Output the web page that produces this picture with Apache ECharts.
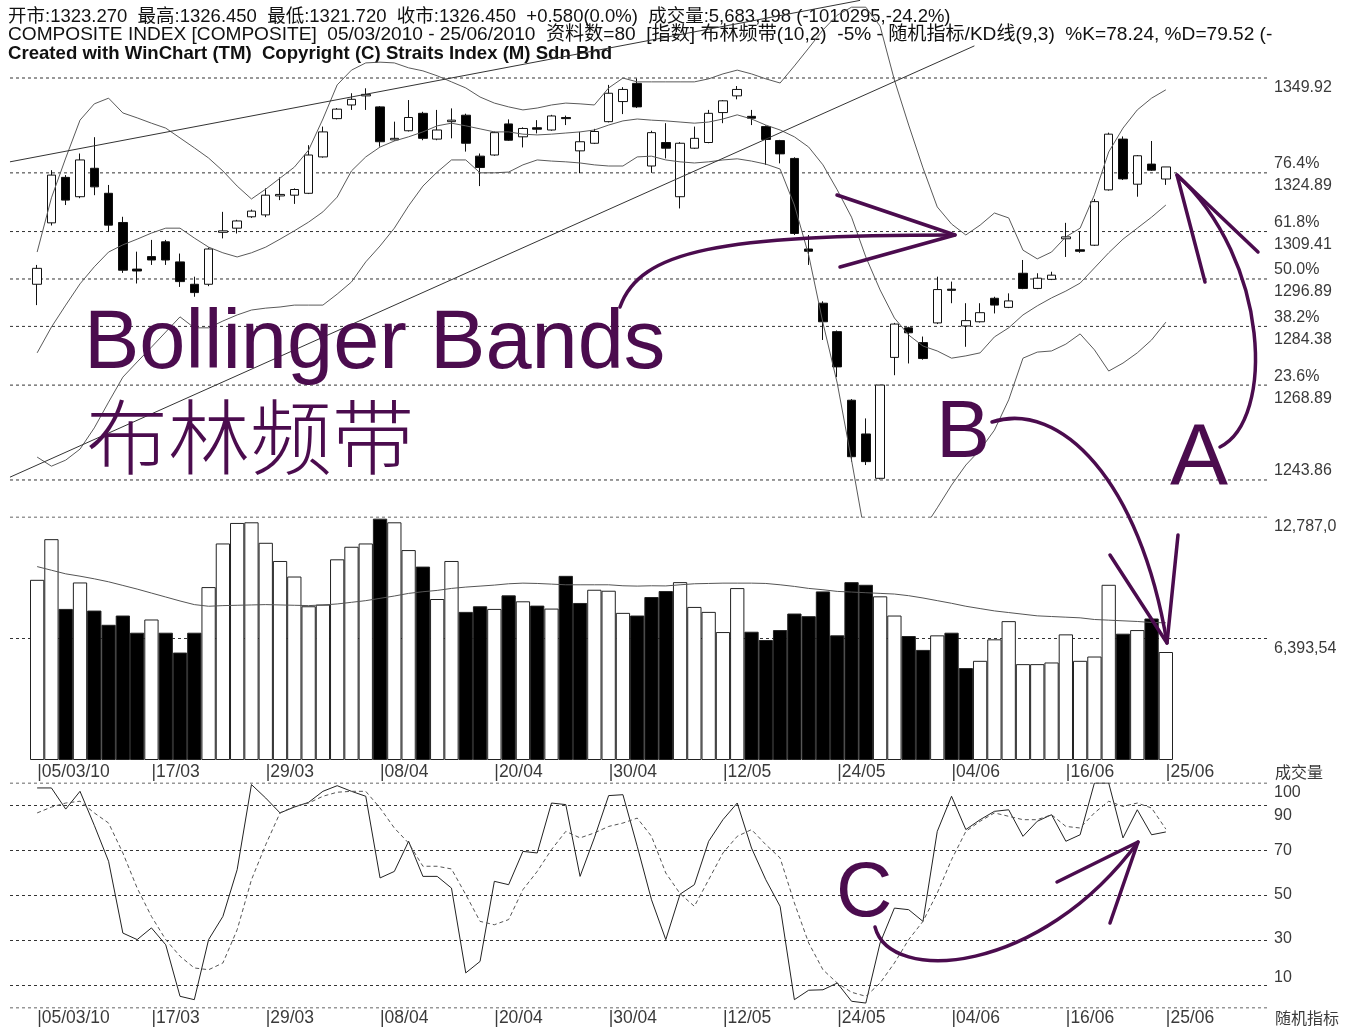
<!DOCTYPE html>
<html><head><meta charset="utf-8">
<script src="https://cdn.jsdelivr.net/npm/echarts@6/dist/echarts.min.js"></script>
<style>html,body{margin:0;padding:0;background:#fff}#c{width:1348px;height:1030px}</style>
</head><body><div id="c"></div>
<script>
// ---------------- DATA ----------------
const dates = ['05/03','08/03','09/03','10/03','11/03','12/03','15/03','16/03','17/03','18/03',
'19/03','22/03','23/03','24/03','25/03','26/03','29/03','30/03','31/03','01/04',
'02/04','05/04','06/04','07/04','08/04','09/04','12/04','13/04','14/04','15/04',
'16/04','19/04','20/04','21/04','22/04','23/04','26/04','27/04','28/04','29/04',
'30/04','03/05','04/05','05/05','06/05','07/05','10/05','11/05','12/05','13/05',
'14/05','17/05','18/05','19/05','20/05','21/05','24/05','25/05','26/05','27/05',
'31/05','01/06','02/06','03/06','04/06','07/06','08/06','09/06','10/06','11/06',
'14/06','15/06','16/06','17/06','18/06','21/06','22/06','23/06','24/06','25/06'];
const tickIndex = [0,8,16,24,32,40,48,56,64,72,79];
const tickText = ['05/03/10','17/03','29/03','08/04','20/04','30/04','12/05','24/05','04/06','16/06','25/06'];

const opens = [1295.5,1311.7,1323.7,1318.6,1326.1,1319.5,1311.8,1299.5,1302.8,1306.7,
1301.4,1295.5,1295.5,1309.2,1310.3,1313.3,1313.8,1318.8,1319.0,1319.5,
1329.1,1339.2,1342.8,1345.2,1342.3,1333.6,1336.0,1340.6,1333.8,1338.4,
1340.1,1329.3,1329.6,1337.8,1334.4,1336.8,1336.2,1339.5,1330.7,1332.7,
1338.4,1343.7,1348.5,1326.7,1332.9,1318.6,1331.4,1332.9,1340.8,1345.2,
1339.8,1337.1,1333.4,1328.7,1304.8,1290.5,1283.0,1264.9,1256.0,1244.3,
1276.2,1284.0,1280.1,1285.3,1294.2,1284.5,1285.6,1291.8,1289.4,1298.4,
1294.4,1296.8,1307.5,1304.6,1305.8,1320.4,1333.8,1321.9,1327.2,1323.27];
const closes = [1299.7,1324.3,1317.7,1328.3,1321.2,1311.1,1299.2,1299.0,1301.9,1301.9,
1296.2,1293.3,1304.8,1309.6,1312.2,1314.8,1319.0,1319.2,1320.5,1329.6,
1335.7,1341.7,1344.3,1345.6,1333.1,1334.0,1339.5,1334.0,1336.2,1338.8,
1332.7,1326.3,1335.5,1333.5,1336.6,1336.4,1339.9,1339.2,1333.1,1335.8,
1345.9,1346.9,1342.3,1335.5,1331.4,1332.7,1334.0,1340.6,1343.9,1346.9,
1339.3,1333.7,1329.9,1308.9,1304.2,1285.6,1273.7,1250.0,1248.7,1268.9,
1285.0,1282.7,1275.9,1294.1,1293.9,1285.9,1288.0,1290.0,1291.1,1294.4,
1297.1,1297.9,1308.0,1304.2,1317.3,1335.1,1323.3,1329.4,1325.6,1326.45];
const highs = [1300.6,1325.6,1324.3,1330.0,1334.3,1321.7,1313.3,1304.1,1307.2,1307.2,
1303.6,1297.5,1305.2,1314.6,1312.5,1315.2,1320.8,1323.7,1320.8,1332.2,
1337.1,1342.0,1345.9,1347.2,1342.5,1338.4,1344.1,1341.0,1341.5,1341.9,
1340.5,1330.0,1335.8,1339.0,1336.9,1338.8,1340.2,1340.0,1335.7,1336.5,
1348.1,1347.5,1349.8,1336.0,1338.0,1333.0,1337.1,1341.5,1344.1,1347.8,
1341.5,1337.4,1333.6,1329.0,1308.5,1291.0,1283.3,1265.2,1260.1,1268.9,
1285.3,1284.3,1281.7,1297.5,1296.2,1290.5,1290.5,1292.2,1293.1,1301.9,
1298.4,1298.8,1311.7,1309.4,1318.0,1335.5,1334.5,1329.6,1333.3,1326.45];
const lows = [1290.0,1311.0,1316.4,1318.2,1319.0,1309.4,1298.5,1295.7,1300.6,1300.6,
1294.8,1292.2,1295.0,1307.6,1308.9,1313.0,1313.2,1317.7,1316.7,1319.3,
1328.9,1339.0,1341.5,1341.5,1331.8,1333.4,1335.8,1333.5,1333.5,1334.0,
1330.5,1321.4,1329.4,1333.3,1331.6,1335.3,1336.0,1337.5,1324.8,1332.5,
1338.2,1340.4,1342.0,1324.9,1328.7,1315.5,1331.2,1332.7,1338.0,1344.3,
1337.5,1327.0,1327.4,1308.5,1300.6,1280.8,1271.0,1248.7,1247.8,1244.0,
1271.5,1274.6,1275.6,1285.0,1290.5,1279.0,1285.4,1287.8,1289.2,1294.2,
1294.2,1296.6,1302.7,1303.8,1305.6,1320.2,1323.0,1318.6,1325.4,1321.72];

const bollUpper = [1304.0,1318.3,1328.8,1338.8,1343.1,1344.6,1340.7,1339.4,1338.0,1336.7,
1334.1,1331.5,1328.8,1325.4,1321.4,1318.0,1320.6,1323.5,1326.4,1330.9,
1339.1,1348.1,1352.0,1353.9,1354.1,1353.9,1352.6,1351.8,1350.5,1348.9,
1347.3,1344.9,1343.3,1342.3,1341.5,1342.0,1342.8,1343.3,1343.1,1342.8,
1347.3,1349.9,1348.9,1348.9,1348.9,1348.9,1348.9,1349.7,1351.0,1352.0,
1351.0,1349.7,1348.6,1353.1,1357.8,1362.6,1366.5,1368.6,1368.6,1363.6,
1349.4,1337.5,1326.2,1315.9,1311.4,1308.5,1311.1,1314.3,1313.0,1304.5,
1302.2,1304.0,1308.0,1310.3,1319.1,1330.4,1336.7,1341.5,1344.6,1346.8];
const bollMid = [1277.4,1284.2,1290.0,1295.6,1300.1,1304.0,1305.9,1307.4,1309.0,1310.3,
1310.3,1307.7,1305.3,1303.8,1302.7,1303.8,1305.3,1307.4,1309.6,1311.9,
1314.6,1318.5,1325.4,1329.1,1331.7,1333.3,1334.4,1335.7,1337.3,1338.0,
1337.3,1336.5,1335.7,1335.7,1335.1,1334.9,1335.1,1335.4,1335.7,1336.2,
1337.5,1338.6,1339.1,1338.8,1338.6,1338.3,1338.0,1338.3,1339.1,1340.2,
1339.1,1337.5,1336.2,1334.4,1331.7,1327.0,1320.4,1313.2,1302.7,1294.0,
1286.6,1282.1,1279.2,1277.9,1276.0,1276.6,1277.4,1281.6,1284.0,1287.4,
1289.8,1291.9,1293.7,1295.8,1299.8,1303.8,1307.4,1310.3,1313.2,1316.4];
const bollLower = [1249.9,1247.5,1249.1,1252.0,1257.6,1264.4,1271.0,1275.0,1278.9,1282.9,
1286.9,1284.0,1284.0,1285.8,1287.4,1288.7,1289.2,1289.5,1290.0,1290.0,
1290.0,1292.9,1296.1,1301.4,1305.6,1310.3,1316.2,1321.4,1325.1,1328.3,
1328.3,1324.9,1324.9,1325.1,1327.0,1328.3,1328.0,1327.8,1327.5,1327.0,
1326.7,1326.7,1329.1,1329.3,1328.3,1327.8,1327.5,1327.8,1328.3,1328.6,
1328.0,1327.2,1325.9,1316.4,1303.2,1285.3,1269.4,1249.1,1228.0,1222.7,
1222.7,1225.4,1230.7,1236.5,1242.5,1247.8,1251.8,1257.0,1265.0,1276.0,
1277.6,1277.9,1279.7,1282.4,1278.2,1272.6,1274.7,1277.4,1280.8,1285.5];

// trend lines: [bar index, price]
const trendUpper = [[-1.9, 1327.8], [57.6, 1370.4]];
const trendLower = [[-1.9, 1244.6], [65.6, 1358.4]];

const priceLevels = [1349.92, 1324.89, 1309.41, 1296.89, 1284.38, 1268.89, 1243.86];
const priceLevelText = ['1349.92', '76.4%\n1324.89', '61.8%\n1309.41', '50.0%\n1296.89', '38.2%\n1284.38', '23.6%\n1268.89', '1243.86'];

const volumes = [9481,11621,7950,9342,7863,7115,7602,6698,7394,6698,
5654,6698,9099,11395,12474,12508,11430,10473,9655,8090,
8177,10560,11221,11395,12700,12508,11047,10177,8472,10473,
7794,8090,7950,8664,8351,8124,7968,9690,8264,8959,
8907,7742,7602,8577,8890,9360,8055,7794,6733,9046,
6750,6315,6837,7707,7568,8872,6559,9360,9220,8612,
7602,6524,5793,6559,6698,4836,5219,6350,7307,5045,
5045,5132,6611,5219,5445,9220,6646,6837,7446,5683];
const volUp = [1,1,0,1,0,0,0,0,1,0, 0,0,1,1,1,1,1,1,1,1, 1,1,1,1,0,1,1,0,1,1,
0,0,1,0,1,0,1,0,0,1, 1,1,0,0,0,1,1,1,1,1, 0,0,0,0,0,0,0,0,0,1,
1,0,0,1,0,0,1,1,1,1, 1,1,1,1,1,1,0,1,0,1];
const volMA = [10177,9986,9795,9673,9534,9377,9186,8994,8785,8577,
8368,8177,8090,8124,8142,8159,8177,8159,8142,8124,
8159,8211,8298,8385,8507,8629,8768,8855,8925,9029,
9099,9151,9203,9273,9307,9290,9255,9220,9220,9220,
9220,9168,9151,9168,9160,9220,9273,9290,9307,9307,
9307,9290,9220,9134,9029,8959,8872,8838,8803,8768,
8733,8646,8525,8385,8246,8090,7968,7846,7759,7672,
7585,7550,7515,7481,7394,7359,7324,7289,7237,7220];
const volLevels = [12787.0, 6393.54];
const volLevelText = ['12,787,0', '6,393,54'];

const stochK = [97.8,97.8,88.4,96.3,81.2,65.2,33.3,30.4,35.6,28.1,
5.2,3.7,30.4,40.7,61.5,99.3,93.3,86.7,89.3,91.4,
96.3,98.8,96.3,94.1,57.8,60.7,74.1,58.5,58.5,53.3,
15.6,20.7,56.3,54.8,69.6,68.9,91.1,90.4,58.5,75.6,
94.4,94.8,71.9,48.1,30.4,50.6,54.8,74.1,83.7,91.1,
71.1,57.0,45.2,3.7,7.9,8.1,11.1,3.0,2.2,28.9,
44.4,43.7,38.5,78.5,94.1,79.3,83.7,87.4,88.1,76.3,
83.0,85.9,74.1,77.0,100,100,75.6,88.1,77.0,78.24];
const stochD = [86.7,89.3,91.1,91.9,86.7,82.2,68.9,53.3,40.7,30.4,
23.0,17.8,17.0,20.0,34.8,57.0,72.6,86.7,89.6,91.1,
94.1,95.9,96.3,96.3,88.9,80.0,73.3,63.0,63.0,61.8,
50.4,38.5,37.0,39.3,52.6,60.7,70.4,78.5,75.6,77.8,
80.7,82.2,84.4,76.3,60.0,50.8,45.2,57.0,68.9,76.3,
79.3,72.6,66.7,46.7,28.9,17.0,11.1,7.0,5.2,11.1,
20.0,30.4,38.5,51.1,65.9,78.5,83.0,86.7,85.2,83.7,
83.7,85.9,80.7,80.0,86.7,91.9,89.6,91.1,88.9,79.52];
const stochLevels = [100, 90, 70, 50, 30, 10, 0];
const stochLevelText = ['100', '90', '70', '50', '30', '10', ''];

const header1 = '开市:1323.270  最高:1326.450  最低:1321.720  收市:1326.450  +0.580(0.0%)  成交量:5,683,198 (-1010295,-24.2%)';
const header2 = 'COMPOSITE INDEX [COMPOSITE]  05/03/2010 - 25/06/2010  资料数=80  [指数] 布林频带(10,2)  -5% - 随机指标/KD线(9,3)  %K=78.24, %D=79.52 (-';
const header3 = 'Created with WinChart (TM)  Copyright (C) Straits Index (M) Sdn Bhd';

// ---------------- LAYOUT / STYLE ----------------
const N = dates.length;
const CAT_LEFT = 30, CAT_W = 1143, OV_LEFT = 10, OV_W = 1260;
const BW = CAT_W / N;
const xMin = -((CAT_LEFT + BW / 2) - OV_LEFT) / BW;
const xMax = xMin + OV_W / BW;
const P_MIN = 1234.09, P_MAX = 1370.50;
const PANELS = [{top: 0, h: 517}, {top: 517, h: 243}, {top: 783, h: 225}];
const FONT = '"Liberation Sans", Arial, "Noto Sans CJK SC", sans-serif';
const CJK = '"Noto Sans CJK SC", "Liberation Sans", sans-serif';
const LABEL_COLOR = '#3a3a3a';
const PURPLE = '#4b0c4e';
const priceShift = [10, 2, 2, 2, 2, 2, -9];
const volShift = [10, 10];
const stochShift = [10, 10, 0, -1, -2, -8, 0];

const grids = [];
PANELS.forEach(p => {
  grids.push({left: CAT_LEFT, top: p.top, width: CAT_W, height: p.h});
  grids.push({left: OV_LEFT, top: p.top, width: OV_W, height: p.h});
});

function catAxis(gi, showLabels, margin) {
  return {
    type: 'category', gridIndex: gi, data: dates, boundaryGap: true,
    axisLine: {show: false}, axisTick: {show: false}, splitLine: {show: false},
    axisLabel: showLabels ? {
      show: true, margin: margin, align: 'left', color: LABEL_COLOR, fontSize: 17.5, fontFamily: FONT,
      interval: (idx) => tickIndex.indexOf(idx) >= 0,
      formatter: (v, idx) => '|' + tickText[tickIndex.indexOf(idx)]
    } : {show: false}
  };
}
function ovAxis(gi) {
  return {type: 'value', gridIndex: gi, min: xMin, max: xMax, show: false, splitLine: {show: false}};
}
function yAx(gi, mn, mx) {
  return {type: 'value', gridIndex: gi, min: mn, max: mx, show: false, splitLine: {show: false}};
}

function levelSeries(axisIdx, levels, texts, shifts) {
  return levels.map((v, i) => ({
    type: 'line', xAxisIndex: axisIdx, yAxisIndex: axisIdx, z: 1, silent: true,
    symbol: 'none', animation: false,
    data: [[xMin, v], [xMax, v]],
    lineStyle: {color: '#333', width: 1, type: [3, 3]},
    endLabel: texts[i] ? {
      show: true, formatter: texts[i], color: LABEL_COLOR, fontSize: 16, fontFamily: FONT,
      lineHeight: 22, distance: 4, offset: [0, shifts[i]], align: 'left'
    } : {show: false}
  }));
}

const series = [];
// price panel
series.push({
  type: 'candlestick', xAxisIndex: 0, yAxisIndex: 0, z: 3, barWidth: 9,
  data: dates.map((_, i) => [opens[i], closes[i], lows[i], highs[i]]),
  itemStyle: {color: '#ffffff', color0: '#000000', borderColor: '#111', borderColor0: '#111', borderWidth: 1}
});
[bollUpper, bollMid, bollLower].forEach(arr => series.push({
  type: 'line', xAxisIndex: 0, yAxisIndex: 0, z: 4, symbol: 'none', data: arr, clip: true,
  lineStyle: {color: '#5a5a5a', width: 1}
}));
[trendUpper, trendLower].forEach(arr => series.push({
  type: 'line', xAxisIndex: 1, yAxisIndex: 1, z: 4, symbol: 'none', data: arr, clip: true,
  lineStyle: {color: '#333', width: 1}
}));
series.push(...levelSeries(1, priceLevels, priceLevelText, priceShift));
// volume panel
series.push({
  type: 'bar', xAxisIndex: 2, yAxisIndex: 2, z: 3, barCategoryGap: '0%',
  data: volumes.map((v, i) => ({value: v, itemStyle: {color: volUp[i] ? '#ffffff' : '#000000'}})),
  itemStyle: {borderColor: '#222', borderWidth: 1}
});
series.push({
  type: 'line', xAxisIndex: 2, yAxisIndex: 2, z: 4, symbol: 'none', data: volMA,
  lineStyle: {color: '#555', width: 1}
});
series.push(...levelSeries(3, volLevels, volLevelText, volShift));
// stochastic panel
series.push({
  type: 'line', xAxisIndex: 4, yAxisIndex: 4, z: 4, symbol: 'none', data: stochK,
  lineStyle: {color: '#222', width: 1}
});
series.push({
  type: 'line', xAxisIndex: 4, yAxisIndex: 4, z: 4, symbol: 'none', data: stochD,
  lineStyle: {color: '#555', width: 1, type: [4, 3]}
});
series.push(...levelSeries(5, stochLevels, stochLevelText, stochShift));

function txt(text, x, y, size, opts) {
  return Object.assign({type: 'text', x: x, y: y, z: 0, silent: true,
    style: Object.assign({text: text, fontSize: size, fontFamily: FONT, fill: '#111', verticalAlign: 'middle', align: 'left'}, opts || {})});
}
const pStroke = {stroke: PURPLE, lineWidth: 3.5, fill: null, lineCap: 'round', lineJoin: 'round'};
function curve(x1, y1, c1x, c1y, c2x, c2y, x2, y2) {
  return {type: 'bezierCurve', z: 100, silent: true, shape: {x1, y1, x2, y2, cpx1: c1x, cpy1: c1y, cpx2: c2x, cpy2: c2y}, style: pStroke};
}
function head(pts) {
  return {type: 'polyline', z: 100, silent: true, shape: {points: pts}, style: pStroke};
}
const graphic = [
  txt(header1, 8, 17, 18.5, {fontFamily: FONT}),
  txt(header2, 8, 35, 19.1, {fontFamily: FONT}),
  txt(header3, 8, 54, 18.6, {fontWeight: 'bold'}),
  txt('成交量', 1275, 772, 16, {fill: LABEL_COLOR, fontFamily: CJK}),
  txt('随机指标', 1275, 1018, 16, {fill: LABEL_COLOR, fontFamily: CJK}),
  Object.assign(txt('Bollinger Bands', 84, 345, 83, {fill: PURPLE}), {z: 100}),
  Object.assign(txt('布林频带', 86, 437, 82, {fill: PURPLE, fontFamily: CJK, fontWeight: 300}), {z: 100}),
  Object.assign(txt('B', 936, 435, 81, {fill: PURPLE}), {z: 100}),
  Object.assign(txt('A', 1170, 461, 87, {fill: PURPLE}), {z: 100}),
  Object.assign(txt('C', 836, 894, 78, {fill: PURPLE}), {z: 100}),
  curve(620, 307, 640, 250, 720, 235, 955, 235),
  head([[837, 195], [955, 235], [840, 267]]),
  curve(992, 422, 1060, 400, 1140, 480, 1167, 643),
  head([[1110, 555], [1167, 643], [1178, 535]]),
  curve(1220, 447, 1275, 420, 1270, 260, 1177, 175),
  head([[1205, 282], [1177, 175], [1258, 252]]),
  curve(875, 927, 890, 985, 1040, 975, 1138, 842),
  head([[1057, 882], [1138, 842], [1110, 923]])
];

const chart = echarts.init(document.getElementById('c'), null, {renderer: 'canvas'});
chart.setOption({
  animation: false,
  backgroundColor: '#ffffff',
  grid: grids,
  xAxis: [catAxis(0, false), ovAxis(1), catAxis(2, true, 3), ovAxis(3), catAxis(4, true, 1), ovAxis(5)],
  yAxis: [yAx(0, P_MIN, P_MAX), yAx(1, P_MIN, P_MAX), yAx(2, 0, 12787), yAx(3, 0, 12787), yAx(4, 0, 100), yAx(5, 0, 100)],
  series: series,
  graphic: graphic
});
</script></body></html>
